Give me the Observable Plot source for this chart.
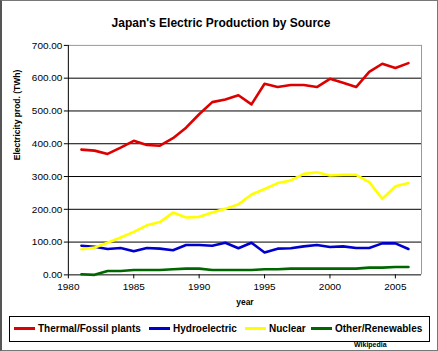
<!DOCTYPE html>
<html><head><meta charset="utf-8">
<script src="https://cdn.jsdelivr.net/npm/d3@7"></script>
<script src="https://cdn.jsdelivr.net/npm/@observablehq/plot@0.6"></script>
<style>
html,body{margin:0;padding:0;background:#fff;}
#wrap{position:relative;width:438px;height:351px;box-sizing:border-box;border:1px solid #777;border-left:2px solid #555;overflow:hidden;font-family:Arial,"Liberation Sans",sans-serif;}
#chart{position:absolute;left:-2px;top:-1px;}
.title{position:absolute;left:0;width:438px;top:15px;text-align:center;font-weight:bold;font-size:12px;color:#000;}
.legend{position:absolute;left:7px;top:315px;width:421px;height:26px;box-sizing:border-box;border:1px solid #000;font-weight:bold;font-size:10px;}
.item{position:absolute;top:6px;white-space:nowrap;}
.sw{display:inline-block;width:21px;height:2.5px;vertical-align:middle;margin-right:3px;position:relative;top:-1px;}
.wiki{position:absolute;left:352px;top:340px;font-size:7px;font-weight:bold;}
</style></head>
<body>
<div id="wrap">
<div id="chart"></div>
<div class="title">Japan's Electric Production by Source</div>
<div class="legend" id="legend"></div>
<div class="wiki">Wikipedia</div>
</div>
<script>
const years = [1981,1982,1983,1984,1985,1986,1987,1988,1989,1990,1991,1992,1993,1994,1995,1996,1997,1998,1999,2000,2001,2002,2003,2004,2005,2006];
const thermal = [382,379,369,388,409,396,394,417,449,490,527,535,548,520,583,573,579,579,573,598,586,573,619,644,631,646];
const hydro = [89,86,79,82,72,82,80,75,91,91,89,98,81,98,68,80,81,87,91,85,87,82,82,96,96,79];
const nuclear = [78,83,98,114,131,151,161,190,175,177,190,202,215,245,262,280,288,308,313,303,305,305,283,232,270,280];
const other = [2,0,12,12,15,15,15,17,19,19,15,15,15,15,17,17,19,19,19,19,19,19,22,22,24,24];
const seriesNames = ["Thermal/Fossil plants","Hydroelectric","Nuclear","Other/Renewables"];
const seriesColors = ["#dd0000","#0000cc","#ffff00","#006600"];
const yTicks = [0,100,200,300,400,500,600,700];
const xTicks = [1980,1985,1990,1995,2000,2005];

const allSeries = [thermal, hydro, nuclear, other];
const rows = [];
allSeries.forEach((vals, si) => vals.forEach((v, i) => rows.push({year: years[i], value: v, series: seriesNames[si]})));

const plot = Plot.plot({
  width: 438, height: 351,
  marginLeft: 68, marginRight: 16, marginTop: 45, marginBottom: 76,
  style: {fontFamily: "Arial, 'Liberation Sans', sans-serif", fontSize: "10px", color: "#000", background: "transparent"},
  x: {domain: [1980, 2007]},
  y: {domain: [0, 700]},
  color: {domain: seriesNames, range: seriesColors},
  marks: [
    Plot.ruleY(yTicks.slice(1, -1), {stroke: "#000", strokeWidth: 1}),
    Plot.ruleY([700], {stroke: "#999", strokeWidth: 1}),
    Plot.ruleX([2007], {stroke: "#999", strokeWidth: 1}),
    Plot.axisY(yTicks, {tickFormat: d3.format(".2f"), tickSize: 4, tickPadding: 2, label: null, fontSize: 10}),
    Plot.axisX(xTicks, {tickFormat: d => String(d), tickSize: 4, tickPadding: 4, label: null, fontSize: 10}),
    Plot.ruleX([1980], {stroke: "#000"}),
    Plot.ruleY([0], {stroke: "#000"}),
    Plot.line(rows, {x: "year", y: "value", z: "series", stroke: "series", strokeWidth: 2.6, curve: "linear"}),
    Plot.text(["year"], {frameAnchor: "bottom", dy: 30, text: d => d, fontWeight: "bold", fontSize: 8.5}),
    Plot.text(["Electricity prod. (TWh)"], {frameAnchor: "left", dx: -51, rotate: -90, text: d => d, fontWeight: "bold", fontSize: 8.5})
  ]
});
document.getElementById("chart").appendChild(plot);

const lg = document.getElementById("legend");
const lefts = [4, 139, 235, 301];
seriesNames.forEach((n, i) => {
  const it = document.createElement("div");
  it.className = "item";
  it.style.left = lefts[i] + "px";
  it.innerHTML = `<span class="sw" style="background:${seriesColors[i]}"></span>${n}`;
  lg.appendChild(it);
});
</script>
</body></html>
